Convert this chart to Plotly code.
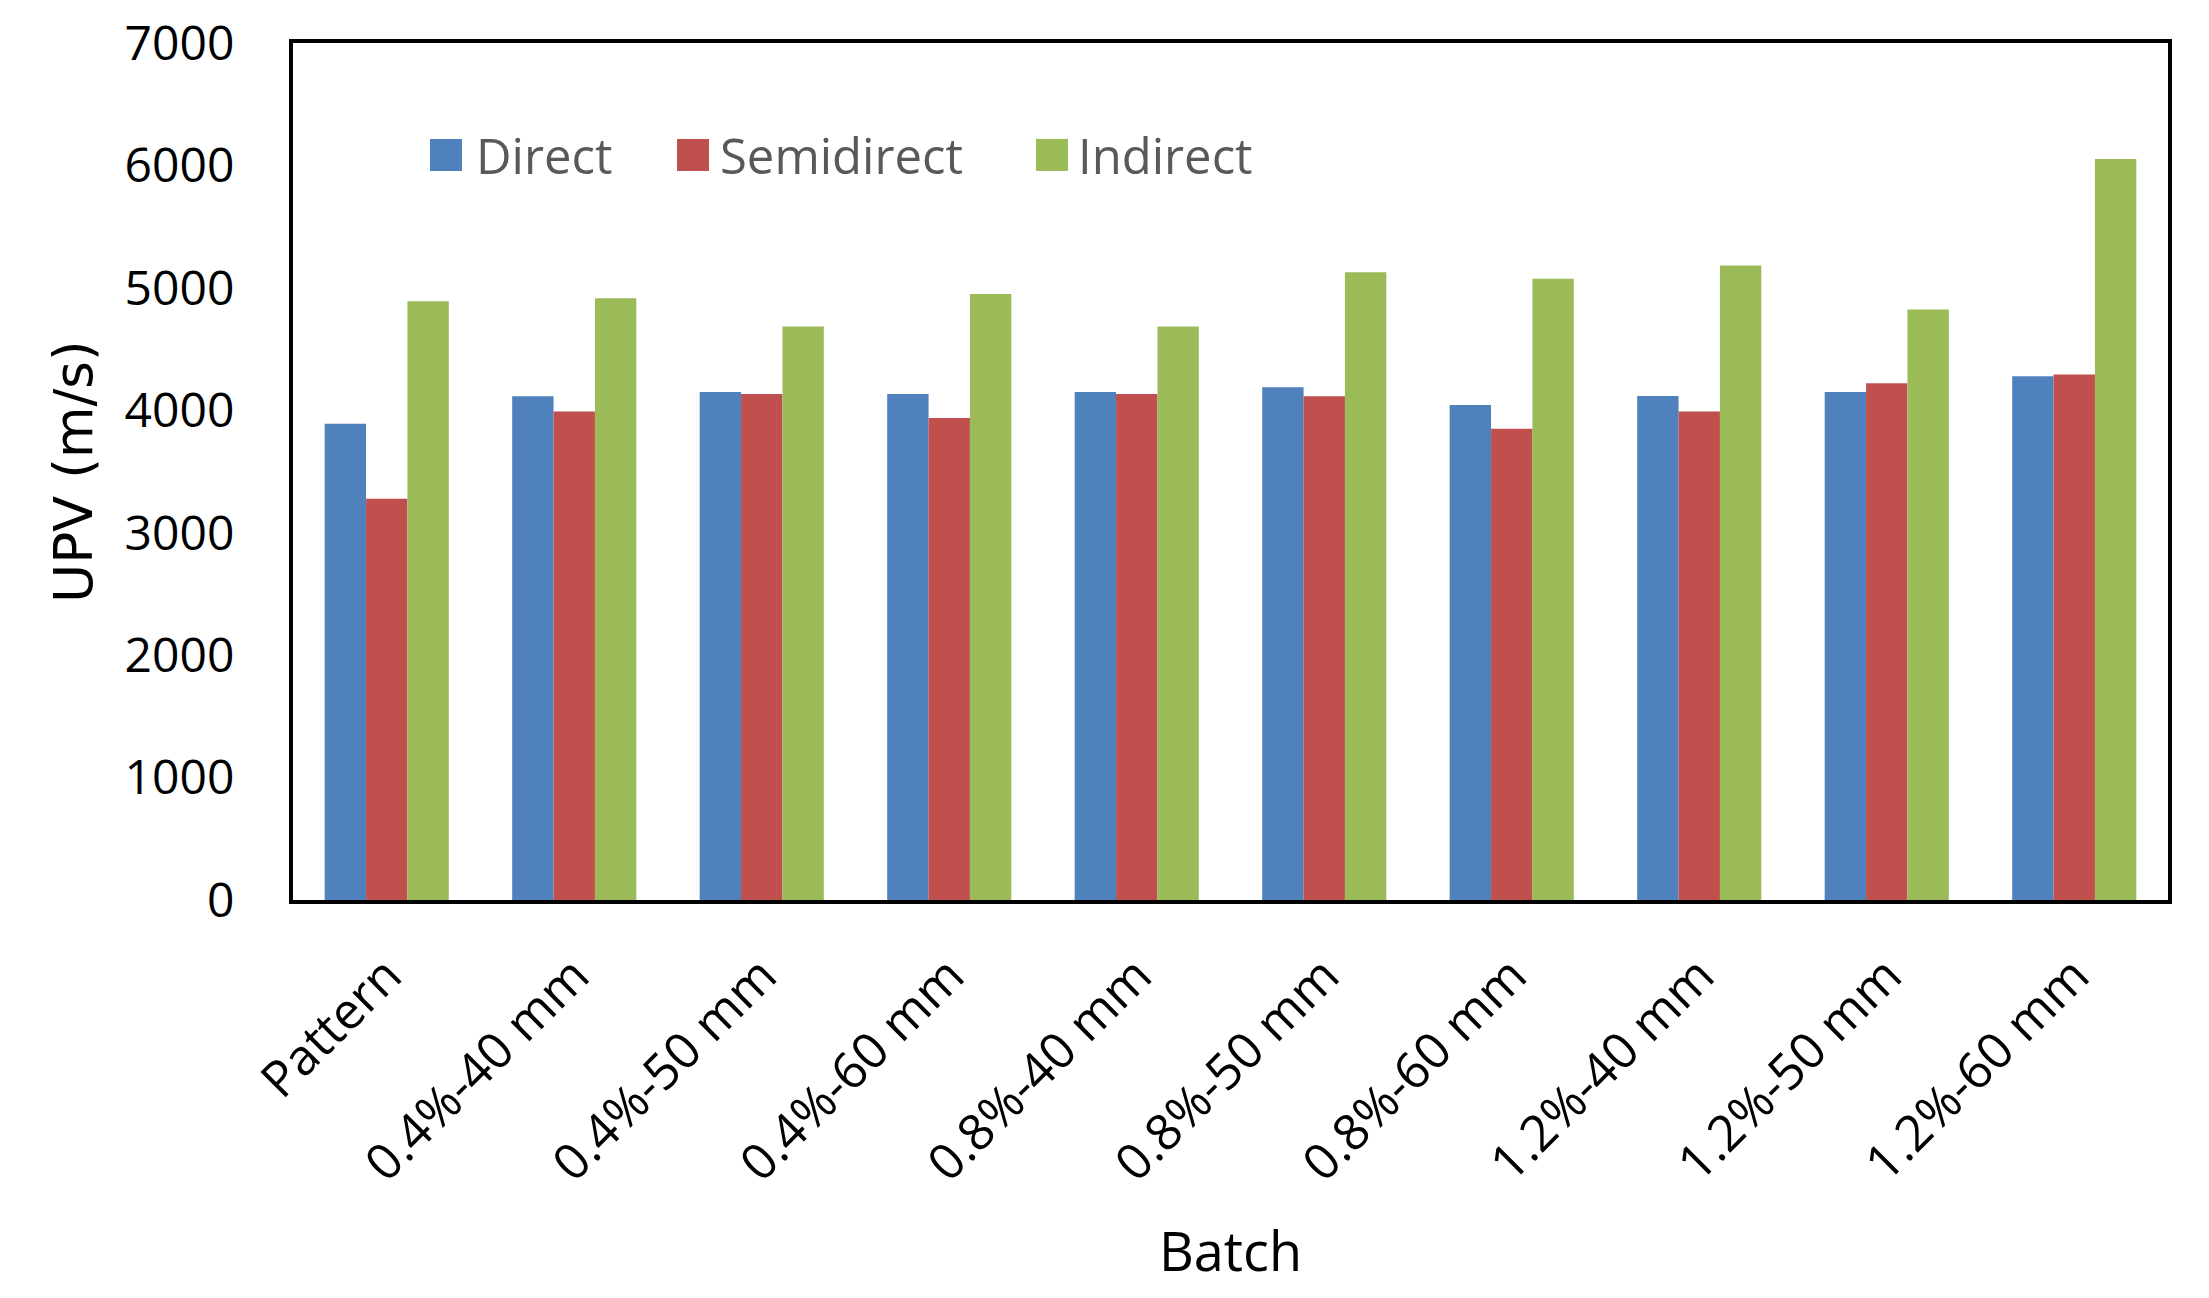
import plotly.graph_objects as go

batches = ["Pattern", "0.4%-40 mm", "0.4%-50 mm", "0.4%-60 mm", "0.8%-40 mm",
           "0.8%-50 mm", "0.8%-60 mm", "1.2%-40 mm", "1.2%-50 mm", "1.2%-60 mm"]
direct = [3890, 4115, 4150, 4133, 4150, 4188, 4043, 4117, 4150, 4279]
semidirect = [3278, 3991, 4133, 3937, 4133, 4114, 3849, 3991, 4220, 4293]
indirect = [4890, 4916, 4685, 4949, 4685, 5128, 5075, 5182, 4824, 6052]

series_names = ["Direct", "Semidirect", "Indirect"]
series_colors = ["#4F81BD", "#C0504D", "#9BBB59"]
series_values = [direct, semidirect, indirect]

W, H = 2209, 1298
OFF = 8  # page body margin
L, R, T, B = 293 - OFF, 49, 35, 406
PW = W - L - R
PH = H - T - B

fig = go.Figure()
for name, color, vals in zip(series_names, series_colors, series_values):
    fig.add_trace(go.Bar(x=batches, y=vals, name=name, marker_color=color,
                         marker_line_width=0, showlegend=False))

# manual legend (large squares like the original); positions in page pixels
legend_x = [430, 677, 1036]
legend_text_x = [474, 718, 1076]
legend_y = 155
sq = 32
for name, color, sx, tx in zip(series_names, series_colors, legend_x, legend_text_x):
    px0 = sx - OFF - L
    py = legend_y - OFF
    fig.add_shape(type="rect", xref="paper", yref="paper",
                  x0=px0 / PW, x1=(px0 + sq) / PW,
                  y0=(H - B - (py + sq / 2)) / PH,
                  y1=(H - B - (py - sq / 2)) / PH,
                  fillcolor=color, line_width=0)
    fig.add_annotation(text=name, xref="paper", yref="paper",
                       x=(tx - OFF - L) / PW, y=(H - B - py) / PH,
                       xanchor="left", yanchor="middle", showarrow=False,
                       font=dict(family="Open Sans", size=49, color="#595959"))

fig.update_layout(
    width=W, height=H,
    margin=dict(l=L, r=R, t=T, b=B, autoexpand=False),
    paper_bgcolor="white", plot_bgcolor="white",
    barmode="group", bargap=0.338, bargroupgap=0,
    font=dict(family="Open Sans", color="black"),
)
fig.update_xaxes(
    showline=True, linecolor="black", linewidth=4, mirror=True,
    showgrid=False, ticks="", tickangle=-45, automargin=False,
    tickfont=dict(family="Open Sans", size=50, color="black"),
    ticklabelstandoff=22, ticklabeloverflow="allow",
    title=dict(text="Batch", font=dict(family="Open Sans", size=54, color="black"), standoff=41),
)
fig.update_yaxes(
    range=[0, 7000], dtick=1000, showline=True, linecolor="black", linewidth=4,
    mirror=True, showgrid=False, zeroline=False, ticks="", automargin=False,
    tickfont=dict(family="Open Sans", size=48, color="black"),
    ticklabelstandoff=45, ticklabeloverflow="allow",
    title=dict(text="UPV (m/s)", font=dict(family="DejaVu Sans", size=53, color="black"), standoff=16),
)

fig.write_html("out.html")
